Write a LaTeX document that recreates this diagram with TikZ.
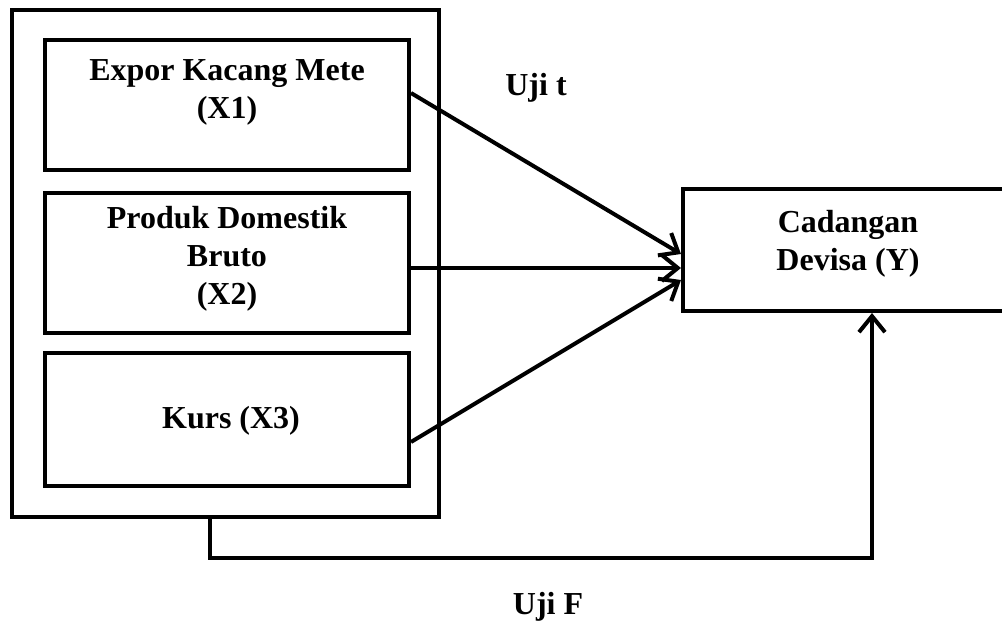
\documentclass[tikz,border=0pt]{standalone}
\usepackage{fontspec}
\setmainfont{Liberation Serif}
\usetikzlibrary{arrows.meta,positioning}

\begin{document}
\begin{tikzpicture}[x=0.5pt, y=-0.5pt, line width=2pt,
  box/.style = {draw, inner sep=0pt, line width=2pt},
  lbl/.style = {font=\bfseries\fontsize{16}{19}\selectfont, align=center, inner sep=0pt},
  arr/.style = {-{Straight Barb[length=8pt,width=13pt,line width=2pt]}}]

\useasboundingbox (0,0) rectangle (1002,627);

% frame and the three variables
\node (frame) at (225.5,263.5) [box, minimum width=213.5pt, minimum height=253.5pt]{};
\node (x1) at (227,105) [box, minimum width=182pt, minimum height=65pt]{};
\node (x2) at (227,263) [box, minimum width=182pt, minimum height=70pt]{};
\node (x3) at (227,419.5) [box, minimum width=182pt, minimum height=66.5pt]{};
\node (y) at (848,250) [box, minimum width=165pt, minimum height=61pt]{};

\node (x1txt) at (227,92) [lbl]{Expor Kacang Mete\\(X1)};
\node (x2txt) at (227,259) [lbl]{Produk Domestik\\Bruto\\(X2)};
\node (x3txt) at (231,421) [lbl]{Kurs (X3)};
\node (ytxt) at (848,243.5) [lbl]{Cadangan\\Devisa (Y)};

\node (ujit) at (536,88) [lbl]{Uji t};
\node (ujif) at (548,607) [lbl]{Uji F};

% partial tests
\draw[arr] ([yshift=6pt]x1.east) -- ([yshift=-2pt]y.west);
\draw[arr] ([yshift=-2.5pt]x2.east) -- ([yshift=-9pt]y.west);
\draw[arr] ([yshift=-11.25pt]x3.east) -- ([yshift=-15pt]y.west);

% simultaneous test
\coordinate (corner) at (872,558);
\draw[arr] ([xshift=-7.75pt]frame.south) |- (corner) -- ([xshift=12pt]y.south);

\end{tikzpicture}
\end{document}
